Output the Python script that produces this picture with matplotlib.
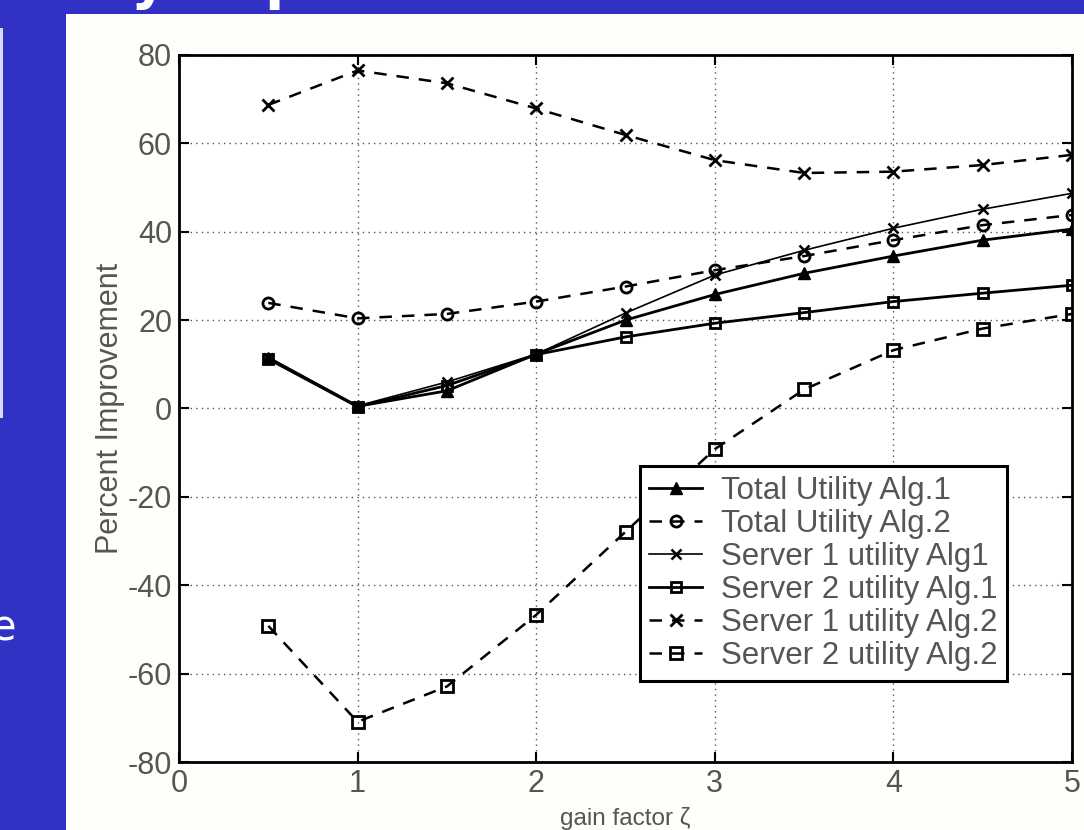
import matplotlib
matplotlib.use("Agg")
import matplotlib.pyplot as plt
import matplotlib.patches as patches

# gain factor values and percent improvement
gain = [0.5, 1.0, 1.5, 2.0, 2.5, 3.0, 3.5, 4.0, 4.5, 5.0]
total_alg1 = [11.5, 0.5, 4.0, 12.3, 20.0, 25.8, 30.6, 34.5, 38.1, 40.6]
total_alg2 = [23.9, 20.4, 21.4, 24.2, 27.6, 31.3, 34.5, 38.1, 41.5, 43.8]
server1_alg1 = [11.5, 0.6, 6.0, 12.3, 21.6, 30.2, 35.8, 40.8, 45.1, 48.7]
server2_alg1 = [11.2, 0.4, 5.2, 12.2, 16.2, 19.3, 21.7, 24.2, 26.1, 27.9]
server1_alg2 = [68.7, 76.5, 73.6, 67.9, 61.9, 56.2, 53.3, 53.6, 55.1, 57.4]
server2_alg2 = [-49.2, -70.9, -62.9, -46.7, -27.9, -9.2, 4.3, 13.2, 18.1, 21.4]

labels = ['Total Utility Alg.1', 'Total Utility Alg.2', 'Server 1 utility Alg1',
          'Server 2 utility Alg.1', 'Server 1 utility Alg.2', 'Server 2 utility Alg.2']
xticks = [0, 1, 2, 3, 4, 5]
yticks = [-80, -60, -40, -20, 0, 20, 40, 60, 80]

plt.rcParams['font.family'] = ['Liberation Sans', 'DejaVu Sans']
plt.rcParams['axes.unicode_minus'] = False

blue = '#3131c6'
fig = plt.figure(figsize=(10.84, 8.30), dpi=100)
fig.patch.set_facecolor(blue)

# white slide panel (behind the axes)
fig.patches.append(patches.Rectangle((66 / 1084, 0), 1 - 66 / 1084, 1 - 14 / 830,
                                     transform=fig.transFigure, facecolor='#fefefa',
                                     edgecolor='none', zorder=-10))
# thin light strip at left edge
fig.patches.append(patches.Rectangle((0, 1 - 418 / 830), 3 / 1084, 390 / 830,
                                     transform=fig.transFigure, facecolor='#d8d8ee',
                                     edgecolor='none', zorder=-10))
# slide title, cut off at the top: only the descenders show
fig.text(-0.022, 1 + 2 / 830, 'Utility Improvement', color='white', fontsize=40,
         fontweight='bold', family='DejaVu Sans', va='baseline', ha='left', zorder=-5)
fig.text(16 / 1084, 1 - 628 / 830, 'e', color='white', fontsize=30, family='DejaVu Sans',
         ha='right', va='center')

ax = fig.add_axes([179 / 1084, 1 - 762 / 830, 893 / 1084, 707 / 830])
ax.set_facecolor('white')

dash = (0, (5, 4))
ax.plot(gain, total_alg1, color='black', lw=2.0, marker='^', ms=9, mfc='black', label=labels[0], zorder=5)
ax.plot(gain, total_alg2, color='black', lw=1.8, ls=dash, marker='o', ms=8, mfc='none', mew=2.0, label=labels[1], zorder=4)
ax.plot(gain, server1_alg1, color='black', lw=1.2, marker='x', ms=7, mew=1.8, label=labels[2], zorder=4)
ax.plot(gain, server2_alg1, color='black', lw=2.0, marker='s', ms=7, mfc='none', mew=2.0, label=labels[3], zorder=4)
ax.plot(gain, server1_alg2, color='black', lw=1.8, ls=dash, marker='x', ms=8, mew=2.0, label=labels[4], zorder=4)
ax.plot(gain, server2_alg2, color='black', lw=1.8, ls=dash, marker='s', ms=8, mfc='none', mew=2.0, label=labels[5], zorder=4)

ax.set_xlim(0, 5)
ax.set_ylim(-80, 80)
ax.set_xticks(xticks)
ax.set_yticks(yticks)
ax.tick_params(direction='in', length=7, width=1.5, labelsize=22, labelcolor='#555555',
               top=True, right=True, pad=5)
ax.grid(True, color='#555555', ls=(0, (1, 3)), lw=1.0)
for s in ax.spines.values():
    s.set_linewidth(2.0)
    s.set_color('black')

ax.set_xlabel('gain factor ζ', fontsize=17.5, color='#555555', labelpad=6)
ax.set_ylabel('Percent Improvement', fontsize=22, color='#555555', labelpad=2)

leg = ax.legend(loc='lower left', bbox_to_anchor=(0.516, 0.115), fontsize=22.5,
                frameon=True, fancybox=False, framealpha=1, edgecolor='black',
                borderpad=0.3, labelspacing=0.1, handlelength=1.7, handletextpad=0.6,
                borderaxespad=0)
leg.get_frame().set_linewidth(2.2)
for t in leg.get_texts():
    t.set_color('#555555')

fig.savefig('out.png', dpi=100, facecolor=fig.get_facecolor())
